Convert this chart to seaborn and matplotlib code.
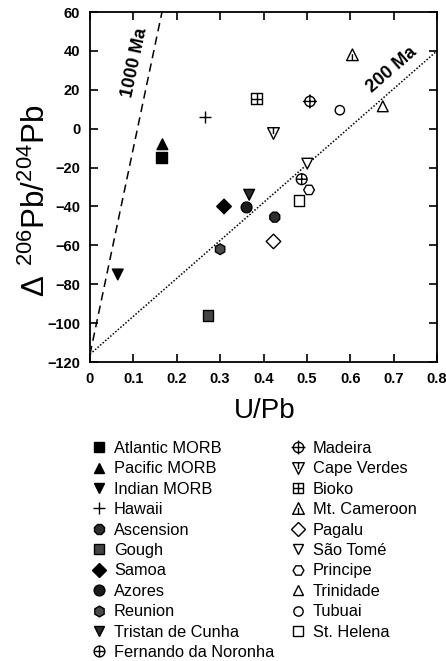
# Delta 206Pb/204Pb vs U/Pb for oceanic basalts, with 200 Ma and 1000 Ma reference lines
import pandas as pd
import seaborn as sns
import matplotlib.pyplot as plt
from matplotlib.path import Path

# Data
sites = ["Atlantic MORB", "Pacific MORB", "Indian MORB", "Hawaii", "Ascension",
         "Gough", "Samoa", "Azores", "Reunion", "Tristan de Cunha",
         "Fernando da Noronha", "Madeira", "Cape Verdes", "Bioko", "Mt. Cameroon",
         "Pagalu", "São Tomé", "Principe", "Trinidade", "Tubuai", "St. Helena"]
u_pb = [0.165, 0.167, 0.064, 0.265, 0.426, 0.272, 0.309, 0.361, 0.300, 0.367,
        0.488, 0.507, 0.423, 0.384, 0.605, 0.423, 0.501, 0.505, 0.675, 0.576, 0.482]
d_pb = [-15, -8, -75, 6, -45.5, -96, -40, -40.5, -62, -34,
        -26, 14, -2.5, 15.5, 38, -58, -18, -31.5, 11.5, 9.5, -37]

# reference isochron lines
iso_x = [0.0, 0.8]
iso_200 = [-116, 40]
iso_1000_x = [0.0, 0.166]
iso_1000 = [-116, 60]

x_ticks = [0, 0.1, 0.2, 0.3, 0.4, 0.5, 0.6, 0.7, 0.8]
x_tick_labels = ["0", "0.1", "0.2", "0.3", "0.4", "0.5", "0.6", "0.7", "0.8"]
y_ticks = [-120, -100, -80, -60, -40, -20, 0, 20, 40, 60]

df = pd.DataFrame({"site": sites, "U/Pb": u_pb, "dPb": d_pb})

# --- marker shapes ---
M, L, C = Path.MOVETO, Path.LINETO, Path.CLOSEPOLY


def seg(x0, y0, x1, y1):
    return Path([(x0, y0), (x1, y1)], [M, L])


def tri(up=True):
    s = 1 if up else -1
    return Path([(0, s), (-1, -s), (1, -s), (0, s)], [M, L, L, C])


circle = Path.unit_circle()
square = Path([(-1, -1), (1, -1), (1, 1), (-1, 1), (-1, -1)], [M, L, L, L, C])
cross = [seg(-1, 0, 1, 0), seg(0, -1, 0, 1)]

plus_mk = Path.make_compound_path(*cross)
madeira_mk = Path.make_compound_path(circle, seg(-1.35, 0, 1.35, 0), seg(0, -1.35, 0, 1.35))
fernando_mk = Path.make_compound_path(circle, *cross)
bioko_mk = Path.make_compound_path(square, *cross)
cape_mk = Path.make_compound_path(tri(False), seg(0, 1, 0, -0.1))
cameroon_mk = Path.make_compound_path(tri(True), seg(0, -1, 0, 0.1))

markers = {
    "Atlantic MORB": "s", "Pacific MORB": "^", "Indian MORB": "v", "Hawaii": plus_mk,
    "Ascension": "8", "Gough": "s", "Samoa": "D", "Azores": "o", "Reunion": "h",
    "Tristan de Cunha": "v", "Fernando da Noronha": fernando_mk, "Madeira": madeira_mk,
    "Cape Verdes": cape_mk, "Bioko": bioko_mk, "Mt. Cameroon": cameroon_mk,
    "Pagalu": "D", "São Tomé": "v", "Principe": "H", "Trinidade": "^",
    "Tubuai": "o", "St. Helena": "s",
}
palette = {
    "Atlantic MORB": "black", "Pacific MORB": "black", "Indian MORB": "black",
    "Hawaii": "black", "Ascension": "#2e2e2e", "Gough": "#444444", "Samoa": "black",
    "Azores": "#1c1c1c", "Reunion": "#4a4a4a", "Tristan de Cunha": "#2a2a2a",
    "Fernando da Noronha": "white", "Madeira": "white", "Cape Verdes": "white",
    "Bioko": "white", "Mt. Cameroon": "white", "Pagalu": "white", "São Tomé": "white",
    "Principe": "white", "Trinidade": "white", "Tubuai": "white", "St. Helena": "white",
}
# marker areas (pt^2): shapes drawn inside a wider box get a bit more area
sizes = {name: 60 for name in sites}
sizes.update({"Madeira": 100, "Hawaii": 75, "Samoa": 55, "Pagalu": 55, "Azores": 60,
              "Tubuai": 45, "Fernando da Noronha": 60, "Cape Verdes": 70,
              "Mt. Cameroon": 70})

sns.set_style("ticks")
plt.rcParams["font.family"] = ["Liberation Sans", "DejaVu Sans"]
plt.rcParams["mathtext.default"] = "regular"
for key in ["text.color", "axes.labelcolor", "xtick.color", "ytick.color", "axes.edgecolor"]:
    plt.rcParams[key] = "black"

fig = plt.figure(figsize=(4.46, 6.61), dpi=100)
ax = fig.add_axes([90 / 446, 1 - 362 / 661, 347 / 446, 350 / 661])

ax.plot(iso_x, iso_200, color="black", lw=1.1, ls=(0, (1, 1.2)))
ax.plot(iso_1000_x, iso_1000, color="black", lw=1.1, ls=(0, (5.5, 3.5)))

sns.scatterplot(data=df, x="U/Pb", y="dPb", hue="site", style="site", size="site",
                hue_order=sites, style_order=sites, size_order=sites,
                palette=palette, markers=markers, sizes=sizes,
                edgecolor="black", linewidth=1.0, ax=ax, zorder=3)

ax.text(0.104, 34, "1000 Ma", rotation=78, ha="center", va="center",
        fontsize=13, fontweight="bold")
ax.text(0.696, 30.5, "200 Ma", rotation=41, ha="center", va="center",
        fontsize=13, fontweight="bold")

ax.set_xlim(0, 0.8)
ax.set_ylim(-120, 60)
ax.set_xticks(x_ticks)
ax.set_xticklabels(x_tick_labels)
ax.set_yticks(y_ticks)
ax.tick_params(direction="in", length=6, width=1.2, top=True, right=True,
               labelsize=10.5, pad=7)
for lab in ax.get_xticklabels() + ax.get_yticklabels():
    lab.set_fontweight("bold")
for sp in ax.spines.values():
    sp.set_linewidth(1.3)

ax.set_xlabel("U/Pb", fontsize=20)
ax.set_ylabel(r"$\Delta\ ^{206}$Pb/$^{204}$Pb", fontsize=22.5)
ax.xaxis.set_label_coords(0.504, -0.103)
ax.yaxis.set_label_coords(-0.11, 0.46)

sns.move_legend(ax, "upper left", bbox_to_anchor=(91 / 446, 1 - 441 / 661),
                bbox_transform=fig.transFigure, ncol=2, frameon=False, title=None,
                fontsize=11.8, borderpad=0, borderaxespad=0, handlelength=1.0,
                handletextpad=0.4, labelspacing=0.33, columnspacing=0.95)

fig.savefig("out.png", dpi=100)
